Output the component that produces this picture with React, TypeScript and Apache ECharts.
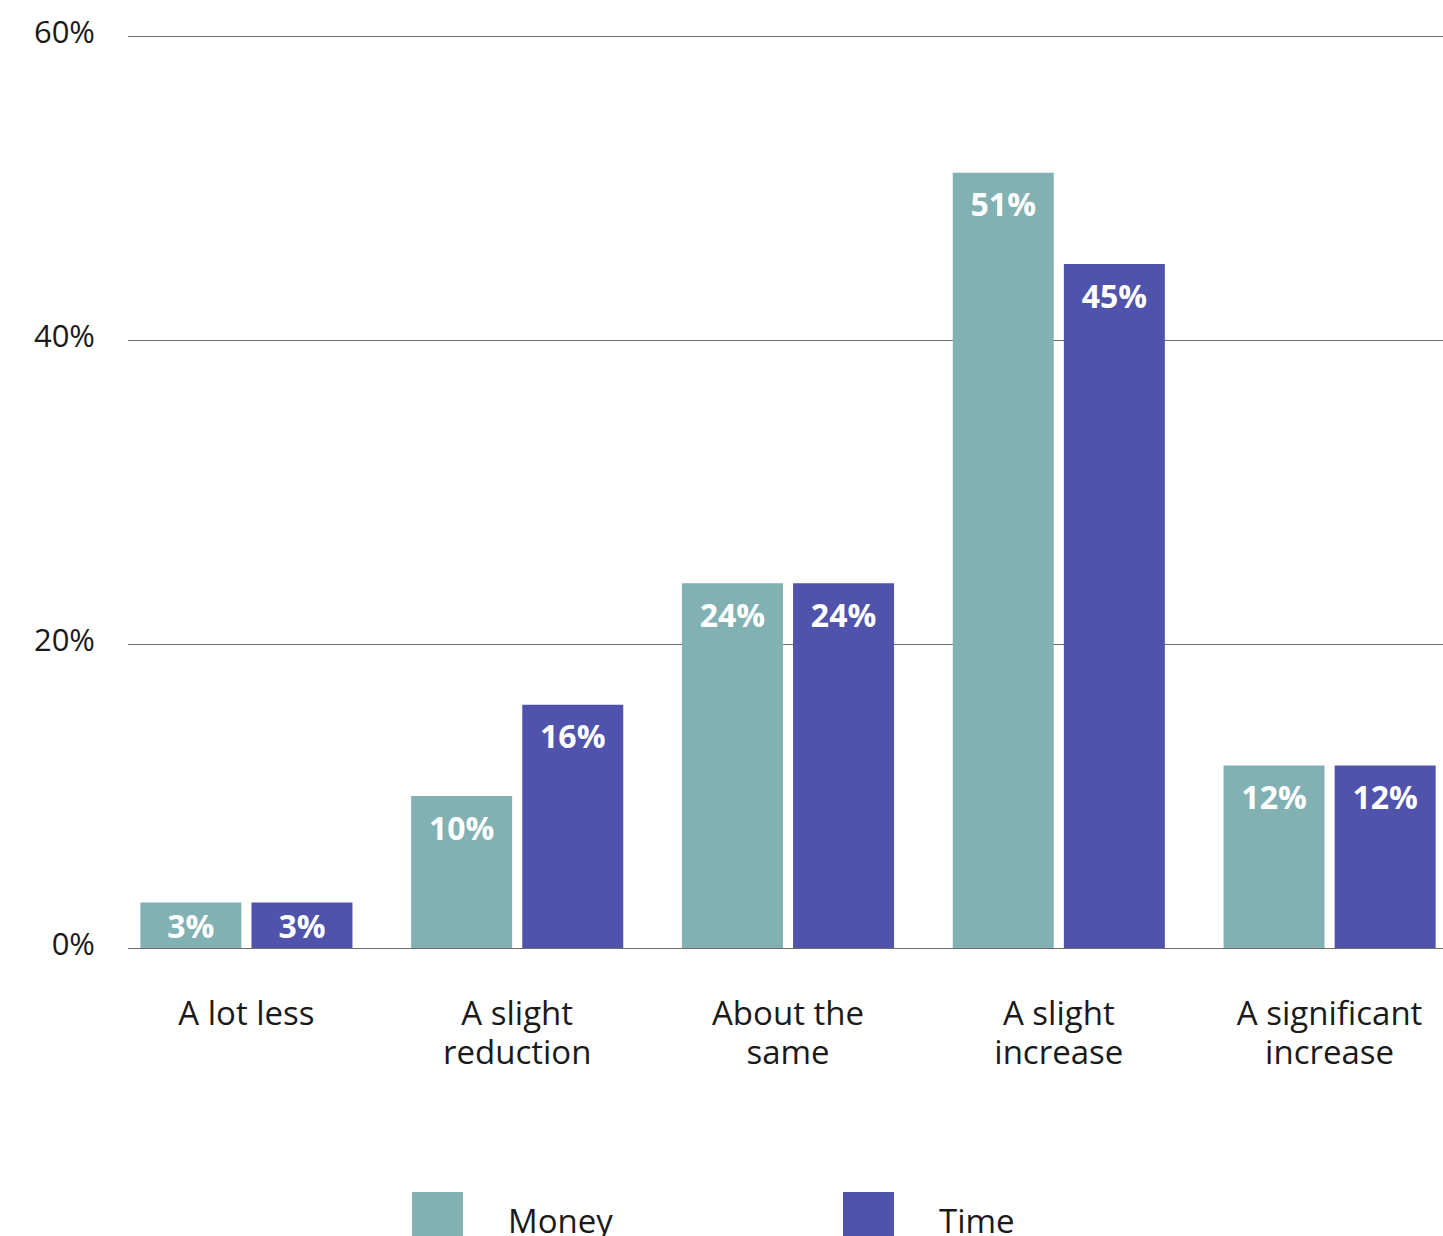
import React, { useEffect, useRef } from "react";
import * as echarts from "echarts";

const categories = ["A lot less", "A slight\nreduction", "About the\nsame", "A slight\nincrease", "A significant\nincrease"];
const moneyValues = [3, 10, 24, 51, 12];
const timeValues = [3, 16, 24, 45, 12];
const yTicks = [0, 20, 40, 60];

const MONEY_COLOR = "#82B1B4";
const TIME_COLOR = "#5053AB";
const FONT = "'Open Sans', 'Noto Sans', sans-serif";

function toData(vals: number[]) {
  return vals.map((v) => ({
    value: v,
    label: v < 5 ? { position: "inside" } : undefined,
  }));
}

export default function App() {
  const ref = useRef<HTMLDivElement>(null);
  useEffect(() => {
    if (!ref.current) return;
    const chart = echarts.init(ref.current, null, { renderer: "svg" });
    const barLabel = {
      show: true,
      position: "insideTop",
      distance: 15,
      color: "#ffffff",
      fontFamily: FONT,
      fontWeight: "bold",
      fontSize: 32,
      formatter: "{c}%",
    };
    const yMin = yTicks[0];
    const yMax = yTicks[yTicks.length - 1];
    const yStep = yTicks[1] - yTicks[0];
    chart.setOption({
      animation: false,
      backgroundColor: "#ffffff",
      textStyle: { fontFamily: FONT },
      grid: [
        { left: 111, width: 1354, top: 36, height: 912, containLabel: false },
        { left: 128, width: 1400, top: 36, height: 912, containLabel: false },
        { left: 128, width: 1400, top: 31, height: 912, containLabel: false },
      ],
      xAxis: [
        {
          type: "category",
          gridIndex: 0,
          data: categories,
          axisLine: { show: false },
          axisTick: { show: false },
          axisLabel: {
            color: "#1a1a1a",
            fontFamily: FONT,
            fontSize: 33,
            lineHeight: 39,
            margin: 45,
            interval: 0,
          },
        },
        { type: "value", gridIndex: 1, show: false, min: 0, max: 1 },
        { type: "value", gridIndex: 2, show: false, min: 0, max: 1 },
      ],
      yAxis: [
        {
          type: "value",
          gridIndex: 0,
          min: yMin,
          max: yMax,
          interval: yStep,
          show: false,
          splitLine: { show: false },
        },
        {
          type: "value",
          gridIndex: 1,
          min: yMin,
          max: yMax,
          interval: yStep,
          axisLine: { show: false },
          axisTick: { show: false },
          axisLabel: { show: false },
          splitLine: { show: true, lineStyle: { color: "#6b6b6b", width: 1.2 } },
        },
        {
          type: "value",
          gridIndex: 2,
          min: yMin,
          max: yMax,
          interval: yStep,
          axisLine: { show: false },
          axisTick: { show: false },
          splitLine: { show: false },
          axisLabel: {
            color: "#1a1a1a",
            fontFamily: FONT,
            fontSize: 31,
            margin: 33,
            formatter: "{value}%",
          },
        },
      ],
      legend: [
        {
          left: 412,
          top: 1192,
          padding: 0,
          itemWidth: 51,
          itemHeight: 56,
          icon: "rect",
          data: ["Money"],
          textStyle: { color: "#1a1a1a", fontFamily: FONT, fontSize: 33, padding: [0, 0, 0, 40] },
        },
        {
          left: 843,
          top: 1192,
          padding: 0,
          itemWidth: 51,
          itemHeight: 56,
          icon: "rect",
          data: ["Time"],
          textStyle: { color: "#1a1a1a", fontFamily: FONT, fontSize: 33, padding: [0, 0, 0, 40] },
        },
      ],
      series: [
        {
          name: "Money",
          type: "bar",
          xAxisIndex: 0,
          yAxisIndex: 0,
          data: toData(moneyValues),
          barWidth: 101,
          barGap: "10%",
          itemStyle: { color: MONEY_COLOR },
          label: barLabel,
          z: 3,
        },
        {
          name: "Time",
          type: "bar",
          xAxisIndex: 0,
          yAxisIndex: 0,
          data: toData(timeValues),
          barWidth: 101,
          barGap: "10%",
          itemStyle: { color: TIME_COLOR },
          label: barLabel,
          z: 3,
        },
      ],
    });
    return () => chart.dispose();
  }, []);
  return (
    <div style={{ position: "absolute", left: 0, top: 0, width: 1443, height: 1236, overflow: "hidden" }}>
      <div ref={ref} style={{ width: 1530, height: 1236 }} />
    </div>
  );
}
